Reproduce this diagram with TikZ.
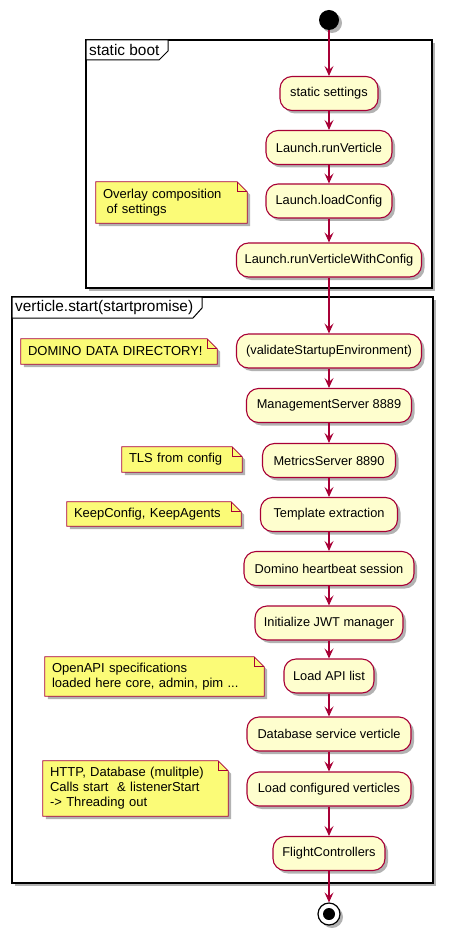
\documentclass[tikz,border=0pt]{standalone}
\usepackage{fontspec}
\setmainfont{Liberation Sans}
\usetikzlibrary{arrows.meta,shadows}
\definecolor{pbox}{HTML}{FEFECE}
\definecolor{pred}{HTML}{A80036}
\definecolor{pnote}{HTML}{FBFB77}
\pgfdeclarelayer{bg}
\pgfsetlayers{bg,main}
\tikzset{
 shad/.style={drop shadow={shadow xshift=3pt,shadow yshift=-3pt,opacity=0.3,fill=black}},
 act/.style={draw=pred, fill=pbox, line width=1.1pt, rounded corners=12pt, minimum height=34pt, inner xsep=6pt, font=\fontsize{12.8}{15}\selectfont, shad},
 notetext/.style={inner xsep=7pt, inner ysep=2pt, align=left, font=\fontsize{13}{15}\selectfont},
 flow/.style={draw=pred, line width=1.1pt, -{Stealth[length=10pt,width=9pt,inset=4pt]}},
 framebox/.style={draw=black, line width=1.6pt, fill=white, shad},
 tabbox/.style={draw=black, line width=1pt, fill=white},
 tabtext/.style={anchor=west, inner sep=0pt, font=\fontsize{15.4}{18}\selectfont},
 noteline/.style={draw=pred, line width=0.8pt},
}
\newcommand\notefold[1]{%
 \fill[pnote, shad] (#1.north west) -- ([xshift=-10pt]#1.north east) -- ([yshift=-10pt]#1.north east) -- (#1.south east) -- (#1.south west) -- cycle;
 \draw[noteline] (#1.north west) -- ([xshift=-10pt]#1.north east) -- ([yshift=-10pt]#1.north east) -- (#1.south east) -- (#1.south west) -- cycle;
 \draw[noteline] ([xshift=-10pt]#1.north east) |- ([yshift=-10pt]#1.north east);
}
\begin{document}
\begin{tikzpicture}[x=1pt,y=-1pt]
\useasboundingbox (0,0) rectangle (448,941);
\begin{pgfonlayer}{bg}
 \draw[framebox] (86,40) rectangle (432,288);
 \draw[tabbox] (86,40) -- (168,40) -- (168,51) -- (159,60) -- (86,60) -- cycle;
 \draw[framebox] (12,297) rectangle (433,883);
 \draw[tabbox] (12,297) -- (202,297) -- (202,308) -- (193,318) -- (12,318) -- cycle;
\end{pgfonlayer}
\node[tabtext] (t1) at (89,50) {static boot};
\node[tabtext] (t2) at (15,307.5) {verticle.start(startpromise)};

\node[circle, fill=black, minimum size=20pt, inner sep=0pt, shad] (start) at (329,20) {};

\node[act, minimum width=98pt] (a1) at (329,93.5) {static settings};
\node[act, minimum width=126pt] (a2) at (329,147.5) {Launch.runVerticle};
\node[act, minimum width=126pt] (a3) at (329,201) {Launch.loadConfig};
\node[act, minimum width=185pt] (a4) at (329,260) {Launch.runVerticleWithConfig};

\node[act, minimum width=185pt] (b1) at (329,351) {(validateStartupEnvironment)};
\node[act, minimum width=165pt] (b2) at (329,405.5) {ManagementServer 8889};
\node[act, minimum width=133pt] (b3) at (329,460.5) {MetricsServer 8890};
\node[act, minimum width=137pt] (b4) at (329,514.5) {Template extraction};
\node[act, minimum width=170pt] (b5) at (329,568.5) {Domino heartbeat session};
\node[act, minimum width=148pt] (b6) at (329,623) {Initialize JWT manager};
\node[act, minimum width=90pt] (b7) at (329,676) {Load API list};
\node[act, minimum width=164pt] (b8) at (329,734) {Database service verticle};
\node[act, minimum width=164pt] (b9) at (329,789) {Load configured verticles};
\node[act, minimum width=112pt] (b10) at (329,853.5) {FlightControllers};

\node[circle, draw=black, fill=white, line width=1.2pt, minimum size=22pt, inner sep=0pt, shad] (stop) at (329,914) {};
\node[circle, fill=black, minimum size=12pt, inner sep=0pt] (stopdot) at (stop.center) {};

\node[notetext, text width=137pt, minimum height=41pt] (n1) at (171.5,202.5) {Overlay composition\\\hspace*{0.28em}of settings};
\node[notetext, text width=182pt, minimum height=25pt] (n2) at (119,351.5) {DOMINO DATA DIRECTORY!};
\node[notetext, text width=106pt, minimum height=25pt] (n3) at (182,459.5) {TLS from config};
\node[notetext, text width=160pt, minimum height=24pt] (n4) at (154,514) {KeepConfig, KeepAgents};
\node[notetext, text width=205pt, minimum height=39pt] (n5) at (154.5,676.5) {OpenAPI specifications\\loaded here core, admin, pim ...};
\node[notetext, text width=171pt, minimum height=55pt] (n6) at (135.5,788.5) {HTTP, Database (mulitple)\\Calls start \ \& listenerStart\\-> Threading out};
\begin{pgfonlayer}{bg}
 \notefold{n1}
 \notefold{n2}
 \notefold{n3}
 \notefold{n4}
 \notefold{n5}
 \notefold{n6}
\end{pgfonlayer}

\draw[flow] (start) -- (a1);
\draw[flow] (a1) -- (a2);
\draw[flow] (a2) -- (a3);
\draw[flow] (a3) -- (a4);
\draw[flow] (a4) -- (b1);
\draw[flow] (b1) -- (b2);
\draw[flow] (b2) -- (b3);
\draw[flow] (b3) -- (b4);
\draw[flow] (b4) -- (b5);
\draw[flow] (b5) -- (b6);
\draw[flow] (b6) -- (b7);
\draw[flow] (b7) -- (b8);
\draw[flow] (b8) -- (b9);
\draw[flow] (b9) -- (b10);
\draw[flow] (b10) -- (stop);
\end{tikzpicture}
\end{document}
